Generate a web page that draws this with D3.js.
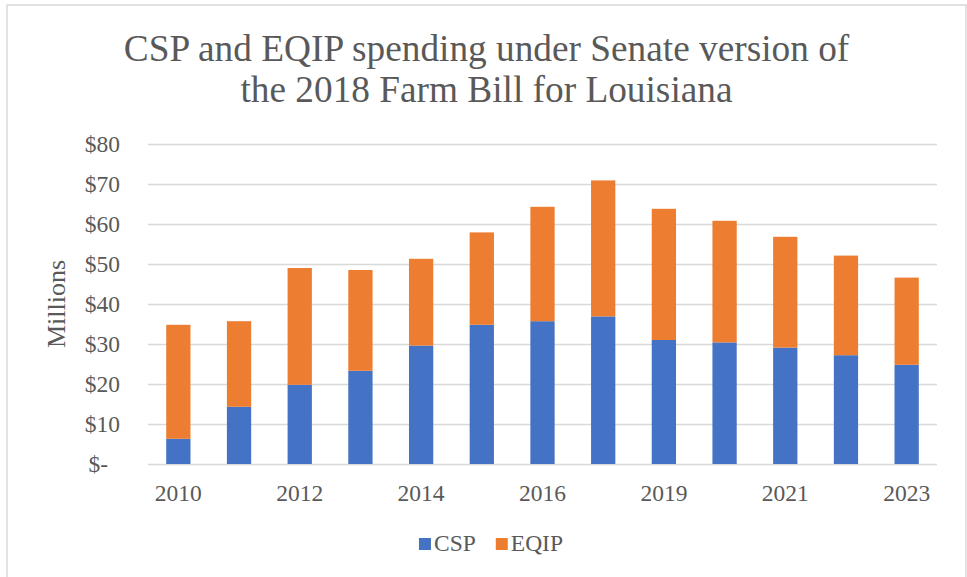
<!DOCTYPE html>
<meta charset="utf-8">
<style> /* set the CSS */

body { margin: 0; background: white; }

.grid line { stroke: #d9d9d9; stroke-width: 1.5; }
.grid path { display: none; }

.axis text { fill: #595959; font-family: "Liberation Serif", "Times New Roman", serif; font-size: 23.5px; }
.axis path, .axis line { display: none; }

.title { fill: #595959; font-family: "Liberation Serif", "Times New Roman", serif; font-size: 37.3px; }
.label { fill: #595959; font-family: "Liberation Serif", "Times New Roman", serif; font-size: 26px; }
.legend text { fill: #595959; font-family: "Liberation Serif", "Times New Roman", serif; font-size: 23.5px; }

</style>
<body>

<!-- load the d3.js library -->
<script src="https://d3js.org/d3.v7.min.js"></script>

<script>

// chart data (millions of dollars)
var years = ["2010", "2011", "2012", "2013", "2014", "2015", "2016",
             "2018", "2019", "2020", "2021", "2022", "2023"];
var csp  = [6.3, 14.3, 19.8, 23.3, 29.6, 34.8, 35.7, 36.9, 31.0, 30.4, 29.1, 27.2, 24.8];
var eqip = [28.5, 21.4, 29.2, 25.2, 21.7, 23.1, 28.6, 34.0, 32.8, 30.4, 27.7, 24.9, 21.8];
var yTicks = [0, 10, 20, 30, 40, 50, 60, 70, 80];
var yTickLabels = ["$-", "$10", "$20", "$30", "$40", "$50", "$60", "$70", "$80"];
var seriesNames = ["CSP", "EQIP"];
var seriesColors = ["#4472c4", "#ed7d31"];
var titleLines = ["CSP and EQIP spending under Senate version of",
                  "the 2018 Farm Bill for Louisiana"];

// set the dimensions and margins of the graph
var W = 967, H = 577;
var margin = {top: 144, right: 30, bottom: 113, left: 148},
    width = 937 - margin.left,
    height = 464 - margin.top;

var svg = d3.select("body").append("svg")
    .attr("width", W)
    .attr("height", H);

// chart area border
svg.append("rect")
    .attr("x", 7).attr("y", 5)
    .attr("width", 959).attr("height", 600)
    .attr("fill", "none")
    .attr("stroke", "#d9d9d9")
    .attr("stroke-width", 1.5);

// title
svg.append("g").selectAll("text")
    .data(titleLines)
  .enter().append("text")
    .attr("class", "title")
    .attr("x", 486.5)
    .attr("y", function(d, i) { return 61 + i * 41; })
    .attr("text-anchor", "middle")
    .text(function(d) { return d; });

var g = svg.append("g")
    .attr("transform", "translate(" + margin.left + "," + margin.top + ")");

// set the ranges
var x = d3.scaleBand()
    .domain(years)
    .range([0, width])
    .paddingInner(0.6)
    .paddingOuter(0.3);
var y = d3.scaleLinear()
    .domain([0, 80])
    .range([height, 0]);

// gridlines
g.append("g")
    .attr("class", "grid")
    .call(d3.axisLeft(y).tickValues(yTicks).tickSize(-width).tickFormat(""));

// stack the two series
var rows = years.map(function(yr, i) { return {year: yr, CSP: csp[i], EQIP: eqip[i]}; });
var stacked = d3.stack().keys(seriesNames)(rows);

g.selectAll(".series")
    .data(stacked)
  .enter().append("g")
    .attr("class", "series")
    .attr("fill", function(d, i) { return seriesColors[i]; })
  .selectAll("rect")
    .data(function(d) { return d; })
  .enter().append("rect")
    .attr("x", function(d) { return x(d.data.year); })
    .attr("width", x.bandwidth())
    .attr("y", function(d) { return y(d[1]); })
    .attr("height", function(d) { return y(d[0]) - y(d[1]); });

// y axis
var yAxis = g.append("g")
    .attr("class", "axis")
    .call(d3.axisLeft(y).tickValues(yTicks).tickSize(0).tickPadding(28)
      .tickFormat(function(d, i) { return yTickLabels[i]; }));
yAxis.selectAll("text").filter(function(d) { return d === 0; }).attr("dx", -12);

// x axis, every other year labelled
g.append("g")
    .attr("class", "axis")
    .attr("transform", "translate(0," + height + ")")
    .call(d3.axisBottom(x).tickValues(years.filter(function(d, i) { return i % 2 === 0; }))
      .tickSize(0).tickPadding(20));

// y axis title
svg.append("text")
    .attr("class", "label")
    .attr("transform", "translate(65,304) rotate(-90)")
    .attr("text-anchor", "middle")
    .text("Millions");

// legend
var legend = svg.append("g").attr("class", "legend");
var lx = 0;
seriesNames.forEach(function(name, i) {
  legend.append("rect")
      .attr("x", lx).attr("y", 538)
      .attr("width", 12).attr("height", 12)
      .attr("fill", seriesColors[i]);
  var t = legend.append("text")
      .attr("x", lx + 15).attr("y", 551)
      .text(name);
  lx += 15 + t.node().getComputedTextLength() + 20;
});
var lw = lx - 20;
legend.attr("transform", "translate(" + (491 - lw / 2) + ",0)");

</script>
</body>
